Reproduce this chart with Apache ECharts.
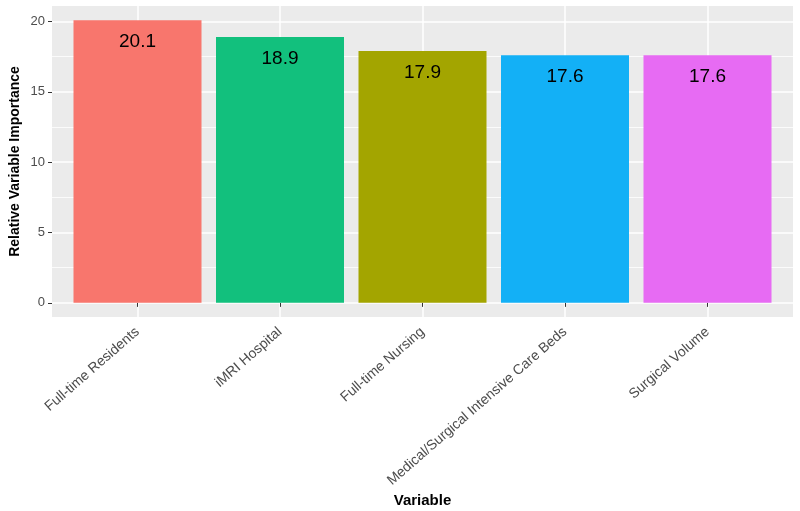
<!DOCTYPE html>
<html>
<head>
<meta charset="utf-8">
<script src="https://cdn.jsdelivr.net/npm/echarts@6/dist/echarts.min.js"></script>
<style>html,body{margin:0;padding:0;background:#fff}#c{width:800px;height:511px}</style>
</head>
<body>
<div id="c"></div>
<script>
const categories = ['Full-time Residents', 'iMRI Hospital', 'Full-time Nursing', 'Medical/Surgical Intensive Care Beds', 'Surgical Volume'];
const values = [20.1, 18.9, 17.9, 17.6, 17.6];
const barColors = ['#F8766D', '#12C07D', '#A3A500', '#13B0F6', '#E76BF3'];
const yMajorTicks = [0, 5, 10, 15, 20];
const yMinorTicks = [2.5, 7.5, 12.5, 17.5];
const xPositions = categories.map((c, i) => i + 1);

const FONT = '"Liberation Sans", Arial, sans-serif';
const yMin = -0.05 * 20.1, yMax = 20.1 * 1.05;

const chart = echarts.init(document.getElementById('c'), null, {renderer: 'canvas'});
chart.setOption({
  animation: false,
  backgroundColor: '#ffffff',
  grid: {left: 52, right: 7, top: 6, bottom: 194, show: true, backgroundColor: '#EBEBEB', borderWidth: 0,
    containLabel: false, outerBoundsMode: 'none'},
  xAxis: {
    type: 'value', min: 0.4, max: 5.6,
    name: 'Variable', nameLocation: 'middle', nameGap: 176, nameMoveOverlap: false,
    nameTextStyle: {fontFamily: FONT, fontSize: 15, fontWeight: 'bold', color: '#000'},
    axisLine: {show: false},
    axisTick: {show: true, customValues: xPositions, length: 4, lineStyle: {color: '#333', width: 1}},
    axisLabel: {customValues: xPositions, rotate: 41, margin: 13, fontFamily: FONT, fontSize: 14, color: '#4D4D4D',
      formatter: v => categories[Math.round(v) - 1] || ''},
    splitLine: {show: true, lineStyle: {color: '#ffffff', width: 1.5}}
  },
  yAxis: [{
    type: 'value', min: yMin, max: yMax, position: 'left',
    name: 'Relative Variable Importance', nameLocation: 'middle', nameGap: 30, nameMoveOverlap: false,
    nameTextStyle: {fontFamily: FONT, fontSize: 14, fontWeight: 'bold', color: '#000'},
    axisLine: {show: false},
    axisTick: {show: true, customValues: yMajorTicks, length: 4, lineStyle: {color: '#333', width: 1}},
    axisLabel: {customValues: yMajorTicks, margin: 7, fontFamily: FONT, fontSize: 13, color: '#4D4D4D'},
    splitLine: {show: true, lineStyle: {color: '#ffffff', width: 1.5}}
  }, {
    type: 'value', min: yMin, max: yMax, position: 'left',
    axisLine: {show: false},
    axisTick: {show: false, customValues: yMinorTicks},
    axisLabel: {show: false, customValues: yMinorTicks},
    splitLine: {show: true, lineStyle: {color: '#ffffff', width: 0.8}}
  }],
  series: [{
    type: 'bar',
    xAxisIndex: 0, yAxisIndex: 0,
    barWidth: 128,
    data: categories.map((c, i) => ({value: [xPositions[i], values[i]], itemStyle: {color: barColors[i]}})),
    label: {show: true, position: 'insideTop', distance: 12, fontFamily: FONT, fontSize: 19, color: '#000',
      formatter: p => p.value[1].toFixed(1)}
  }]
});
</script>
</body>
</html>
